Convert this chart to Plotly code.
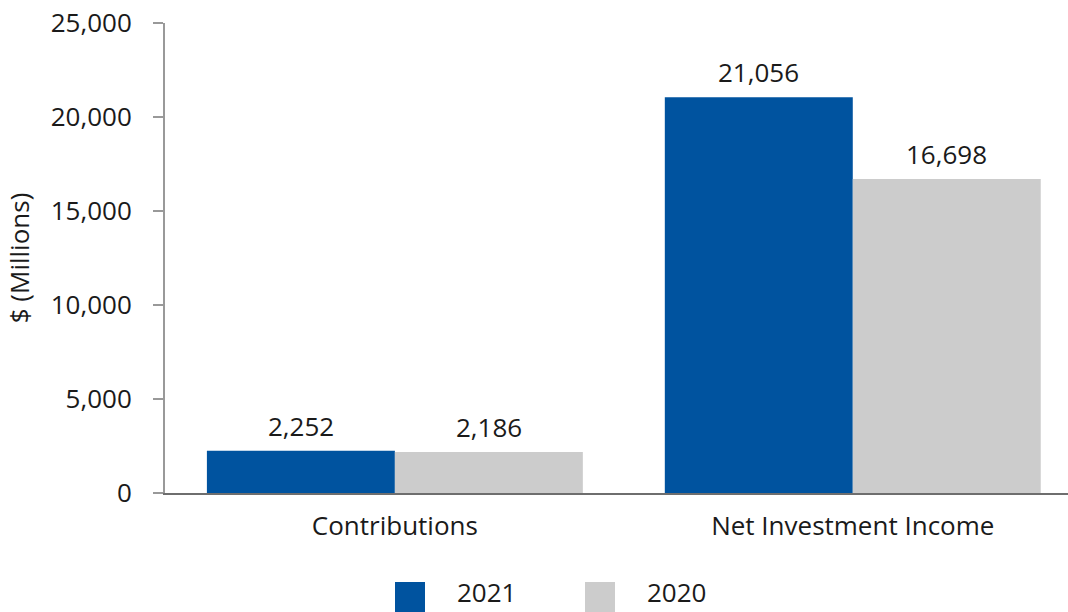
import plotly.graph_objects as go

categories = ["Contributions", "Net Investment Income"]
values_2021 = [2252, 21056]
values_2020 = [2186, 16698]
series_names = ["2021", "2020"]
y_ticks = [0, 5000, 10000, 15000, 20000, 25000]

BLUE = "#00539f"
GRAY = "#cccccc"
FONT = "Open Sans, Noto Sans, sans-serif"
FS = 26
BARGAP = 0.179

fig = go.Figure()

series = [(series_names[0], values_2021, BLUE), (series_names[1], values_2020, GRAY)]
for name, vals, col in series:
    fig.add_trace(go.Bar(
        x=categories,
        y=vals,
        name=name,
        marker=dict(color=col, line=dict(width=0)),
        showlegend=False,
    ))

# value labels above each bar (placed at the bar centre of each group)
half = (1 - BARGAP) / 4
for k, (name, vals, col) in enumerate(series):
    off = -half if k == 0 else half
    for i, v in enumerate(vals):
        fig.add_annotation(x=i + off, y=v, text=f"{v:,}", showarrow=False,
                           yanchor="bottom", yshift=5,
                           font=dict(size=FS, color="#1a1a1a"))

fig.update_layout(
    width=1068,
    height=612,
    margin=dict(l=165, r=0, t=23, b=119),
    barmode="group",
    bargap=BARGAP,
    bargroupgap=0,
    plot_bgcolor="white",
    paper_bgcolor="white",
    font=dict(family=FONT, size=FS, color="#1a1a1a"),
)

fig.update_xaxes(
    range=[-0.502, 1.47],
    automargin=False,
    showline=True,
    linecolor="#6e6e6e",
    linewidth=2,
    ticks="",
    ticklabelstandoff=9,
    tickfont=dict(size=FS),
    showgrid=False,
    zeroline=False,
)

fig.update_yaxes(
    range=[0, 25000],
    automargin=False,
    tickvals=y_ticks,
    tickformat=",",
    showline=True,
    linecolor="#999999",
    linewidth=2,
    ticks="outside",
    ticklen=10,
    tickwidth=2,
    tickcolor="#999999",
    ticklabelstandoff=16,
    showgrid=False,
    zeroline=False,
    title=dict(text="$ (Millions)", standoff=14, font=dict(size=FS)),
)

# custom legend (large square swatches, cut at the bottom edge)
PLOT_W, PLOT_H, PLOT_L, PLOT_B = 903, 470, 165, 493
legend_x = [395, 585]
for (x0, name, col) in zip(legend_x, series_names, [BLUE, GRAY]):
    fig.add_shape(type="rect", xref="paper", yref="paper",
                  x0=(x0 - PLOT_L) / PLOT_W, x1=(x0 + 30 - PLOT_L) / PLOT_W,
                  y0=-(615 - PLOT_B) / PLOT_H, y1=-(582 - PLOT_B) / PLOT_H,
                  fillcolor=col, line=dict(width=0))
    fig.add_annotation(xref="paper", yref="paper",
                       x=(x0 + 60 - PLOT_L) / PLOT_W, y=-(612 - PLOT_B) / PLOT_H,
                       text=name, showarrow=False, xanchor="left",
                       yanchor="bottom", font=dict(size=FS))

fig.write_html("out.html", config={"displayModeBar": False},
               post_script="document.body.style.margin='0';")
